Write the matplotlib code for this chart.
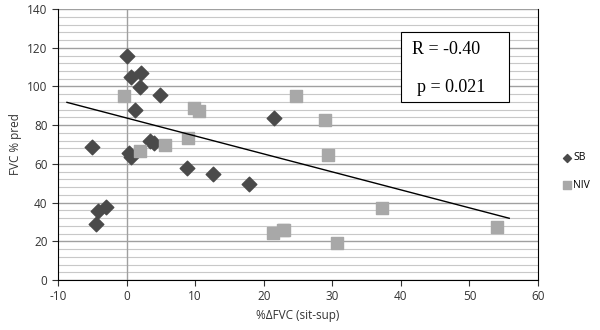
import numpy as np
import matplotlib.pyplot as plt
from matplotlib.ticker import MultipleLocator
from matplotlib.patches import Rectangle

# SB group (diamonds)
sb_x = [0.0, 0.7, 2.1, 2.0, 4.9, 1.2, 21.5, -5.1, 3.4, 4.0, 0.4, 0.7,
        8.85, 12.6, 17.8, -3.0, -4.1, -4.4]
sb_y = [115.7, 104.7, 107.0, 99.8, 95.7, 87.8, 83.8, 68.9, 71.8, 70.6, 65.8, 63.4,
        57.7, 54.6, 49.6, 37.9, 35.8, 28.8]

# NIV group (squares)
niv_x = [-0.4, 1.9, 5.6, 9.8, 10.6, 9.0, 24.7, 29.0, 29.4, 21.3, 22.8, 23.0,
         37.3, 30.7, 54.0]
niv_y = [95.0, 66.8, 69.7, 88.7, 87.5, 73.2, 95.2, 82.6, 64.6, 24.4, 25.8, 25.8,
         37.4, 19.3, 27.5]

# trend line end points as drawn
trend_x = [-8.7, 55.8]
trend_y = [91.8, 31.9]

plt.rcParams['font.family'] = ['Open Sans', 'DejaVu Sans']
plt.rcParams['axes.unicode_minus'] = False

fig = plt.figure(figsize=(6, 3.3), dpi=100)
ax = fig.add_axes([0.0967, 0.1515, 0.8, 0.821])

ax.plot(trend_x, trend_y, color='black', lw=1, zorder=4)

ax.scatter(sb_x, sb_y, marker='D', s=55, color='#4a4a4a', edgecolors='#4a4a4a',
           zorder=3, label='SB')
ax.scatter(niv_x, niv_y, marker='s', s=85, color='#a8a8a8', edgecolors='#a8a8a8',
           zorder=3, label='NIV')

ax.set_xlim(-10, 60)
ax.set_ylim(0, 140)
ax.xaxis.set_major_locator(MultipleLocator(10))
ax.yaxis.set_major_locator(MultipleLocator(20))
ax.yaxis.set_minor_locator(MultipleLocator(4))
ax.grid(axis='y', which='major', color='#a0a0a0', lw=1)
ax.grid(axis='y', which='minor', color='#c8c8c8', lw=0.8)
ax.axvline(0, color='#a0a0a0', lw=1, zorder=1)
ax.set_axisbelow(True)

ax.spines['top'].set_visible(False)

ax.tick_params(axis='both', labelsize=8.5, colors='#333333', length=4)
ax.tick_params(axis='y', which='minor', length=0)
ax.set_xlabel('%ΔFVC (sit-sup)', fontsize=8.5, color='#333333')
ax.set_ylabel('FVC % pred', fontsize=8.5, color='#333333')

# stats box
ax.add_patch(Rectangle((0.7146, 0.657), 0.225, 0.258, transform=ax.transAxes,
                       fc='white', ec='black', lw=0.8, zorder=5))
ax.text(0.737, 0.849, 'R = -0.40', transform=ax.transAxes, fontsize=13,
        family='Liberation Serif', ha='left', va='center', zorder=6)
ax.text(0.748, 0.712, 'p = 0.021', transform=ax.transAxes, fontsize=13,
        family='Liberation Serif', ha='left', va='center', zorder=6)

fig.legend(loc='center left', bbox_to_anchor=(0.936, 0.48), frameon=False,
           fontsize=7.5, handletextpad=0.1, handlelength=1.0, labelspacing=1.6,
           markerscale=0.55, borderaxespad=0, borderpad=0)

fig.savefig('out.png')
